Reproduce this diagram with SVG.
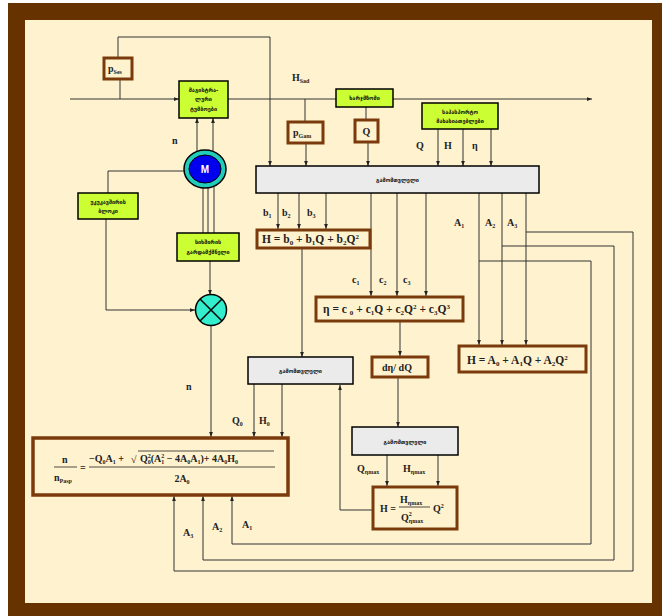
<svg xmlns="http://www.w3.org/2000/svg" width="662" height="616" viewBox="0 0 662 616">
<style>
.ln{fill:none;stroke:#333;stroke-width:1}
.grn{fill:#ccff33;stroke:#000;stroke-width:1.5}
.brn{fill:#fff2cf;stroke:#7b3a0b;stroke-width:3}
.gry{fill:#ebebeb;stroke:#000;stroke-width:1.5}
.t{font-family:"Liberation Serif",serif;font-weight:bold;font-size:10px;fill:#222}
.f{font-size:11.5px}
.s{font-size:6px}
.s7{font-size:7px}
.ka{font-family:"DejaVu Sans","Noto Sans",sans-serif;font-weight:bold;font-size:5.5px;fill:#111;text-anchor:middle}
</style>
<defs>
<marker id="ar" viewBox="0 0 8 8" refX="8" refY="4" markerWidth="5" markerHeight="5" orient="auto" markerUnits="userSpaceOnUse">
<path d="M0,1 L8,4 L0,7 Z" fill="#222"/>
</marker>
</defs>
<rect x="8" y="3" width="654" height="613" fill="#663300"/>
<rect x="25" y="20" width="627" height="583" fill="#fff2cf"/>

<g id="connectors" class="ln">
<path d="M70,99 H179" marker-end="url(#ar)"/>
<path d="M228,99 H592" marker-end="url(#ar)"/>
<path d="M120,79 V99"/>
<path d="M118,58 V37 H270 V166" marker-end="url(#ar)"/>
<path d="M305,99 V121"/>
<path d="M306,143 V166" marker-end="url(#ar)"/>
<path d="M366,107 V119"/>
<path d="M368,142 V166" marker-end="url(#ar)"/>
<path d="M438,129 V166" marker-end="url(#ar)"/>
<path d="M463,129 V166" marker-end="url(#ar)"/>
<path d="M491,129 V166" marker-end="url(#ar)"/>
<path d="M197,153 V118" marker-end="url(#ar)"/>
<path d="M213,153 V118" marker-end="url(#ar)"/>
<path d="M203,187 V233"/>
<path d="M208,188 V233"/>
<path d="M214,187 V233"/>
<path d="M185,171 H108 V193"/>
<path d="M106,219 V310 H195" marker-end="url(#ar)"/>
<path d="M210,261 V295" marker-end="url(#ar)"/>
<path d="M211,326 V437" marker-end="url(#ar)"/>
<path d="M278,193 V229" marker-end="url(#ar)"/>
<path d="M299,193 V229" marker-end="url(#ar)"/>
<path d="M326,193 V229" marker-end="url(#ar)"/>
<path d="M302,248 V357" marker-end="url(#ar)"/>
<path d="M371,193 V296" marker-end="url(#ar)"/>
<path d="M397,193 V296" marker-end="url(#ar)"/>
<path d="M426,193 V296" marker-end="url(#ar)"/>
<path d="M400,321 V356" marker-end="url(#ar)"/>
<path d="M479,193 V345" marker-end="url(#ar)"/>
<path d="M502,193 V345" marker-end="url(#ar)"/>
<path d="M526,193 V345" marker-end="url(#ar)"/>
<path d="M526,232 H633 V571 H174 V496" marker-end="url(#ar)"/>
<path d="M502,246 H614 V560 H203 V496" marker-end="url(#ar)"/>
<path d="M479,261 H591 V544 H232 V496" marker-end="url(#ar)"/>
<path d="M254,384 V437" marker-end="url(#ar)"/>
<path d="M282,384 V437" marker-end="url(#ar)"/>
<path d="M398,377 V427" marker-end="url(#ar)"/>
<path d="M387,455 V486" marker-end="url(#ar)"/>
<path d="M438,455 V486" marker-end="url(#ar)"/>
<path d="M372,510 H340 V385" marker-end="url(#ar)"/>
</g>

<g id="labels" class="t">
<text x="172" y="144">n</text>
<text x="186" y="390">n</text>
<text x="292" y="81">H<tspan class="s" dy="2">Sad</tspan></text>
<text x="416" y="149">Q</text>
<text x="444" y="149">H</text>
<text x="472" y="149">η</text>
<text x="263" y="216">b<tspan class="s" dy="2">1</tspan></text>
<text x="282" y="216">b<tspan class="s" dy="2">2</tspan></text>
<text x="307" y="216">b<tspan class="s" dy="2">3</tspan></text>
<text x="352" y="283">c<tspan class="s" dy="2">1</tspan></text>
<text x="379" y="283">c<tspan class="s" dy="2">2</tspan></text>
<text x="403" y="283">c<tspan class="s" dy="2">3</tspan></text>
<text x="454" y="226">A<tspan class="s" dy="2">1</tspan></text>
<text x="485" y="226">A<tspan class="s" dy="2">2</tspan></text>
<text x="507" y="226">A<tspan class="s" dy="2">3</tspan></text>
<text x="232" y="424">Q<tspan class="s" dy="2">0</tspan></text>
<text x="259" y="424">H<tspan class="s" dy="2">0</tspan></text>
<text x="357" y="472">Q<tspan class="s" dy="2">ηmax</tspan></text>
<text x="403" y="472">H<tspan class="s" dy="2">ηmax</tspan></text>
<text x="183" y="536">A<tspan class="s" dy="2">3</tspan></text>
<text x="212" y="530">A<tspan class="s" dy="2">2</tspan></text>
<text x="242" y="528">A<tspan class="s" dy="2">1</tspan></text>
</g>

<g id="p_ses">
<rect class="brn" x="104" y="58" width="28" height="21"/>
<text class="t" x="108" y="72">p<tspan class="s" dy="2">Ses</tspan></text>
</g>
<g id="pump">
<rect class="grn" x="179" y="81" width="49" height="37"/>
<text class="ka" x="203.5" y="92">მაგისტრა-</text>
<text class="ka" x="203.5" y="101">ლური</text>
<text class="ka" x="203.5" y="111">ტუმბოები</text>
</g>
<g id="p_gam">
<rect class="brn" x="288" y="122" width="35" height="21"/>
<text class="t" x="293" y="136">p<tspan class="s" dy="2">Gam</tspan></text>
</g>
<g id="flowmeter">
<rect class="grn" x="336" y="89" width="57" height="18"/>
<text class="ka" x="364.5" y="100">ხარჯმზომი</text>
</g>
<g id="q_box">
<rect class="brn" x="355" y="120" width="23" height="22"/>
<text class="t" x="366.5" y="135" text-anchor="middle">Q</text>
</g>
<g id="passport">
<rect class="grn" x="422" y="103" width="76" height="26"/>
<text class="ka" x="460" y="114">საპასპორტო</text>
<text class="ka" x="460" y="123">მახასიათებლები</text>
</g>
<g id="computer1">
<rect class="gry" x="256" y="166" width="283" height="27"/>
<text class="ka" x="397.5" y="182" font-size="6">გამომთვლელი</text>
</g>
<g id="motor">
<ellipse cx="205" cy="169" rx="21" ry="19" fill="#22ccbb" stroke="#000" stroke-width="1.5"/>
<ellipse cx="205" cy="169" rx="16" ry="14" fill="#0000ee" stroke="#000" stroke-width="1"/>
<text x="205" y="173" text-anchor="middle" font-family="Liberation Sans,sans-serif" font-weight="bold" font-size="10" fill="#fff">M</text>
</g>
<g id="feedback">
<rect class="grn" x="78" y="193" width="60" height="26"/>
<text class="ka" x="108" y="204">უკუკავშირის</text>
<text class="ka" x="108" y="213">ბლოკი</text>
</g>
<g id="converter">
<rect class="grn" x="177" y="233" width="62" height="28"/>
<text class="ka" x="208" y="244">სიხშირის</text>
<text class="ka" x="208" y="254">გარდამქმნელი</text>
</g>
<g id="multiplier">
<circle cx="211" cy="310" r="15.5" fill="#33eecc" stroke="#000" stroke-width="1.5"/>
<path d="M200,299 L222,321 M222,299 L200,321" stroke="#000" stroke-width="1.5"/>
</g>
<g id="h_b">
<rect class="brn" x="257" y="230" width="113" height="18"/>
<text class="t f" x="262" y="243">H = b<tspan class="s7" dy="2">0</tspan><tspan dy="-2"> + b</tspan><tspan class="s7" dy="2">1</tspan><tspan dy="-2">Q + b</tspan><tspan class="s7" dy="2">2</tspan><tspan dy="-2">Q</tspan><tspan class="s7" dy="-4">2</tspan></text>
</g>
<g id="eta_c">
<rect class="brn" x="316" y="297" width="147" height="24"/>
<text class="t f" x="323" y="313">η = c <tspan class="s7" dy="2">  0</tspan><tspan dy="-2"> + c</tspan><tspan class="s7" dy="2">1</tspan><tspan dy="-2">Q + c</tspan><tspan class="s7" dy="2">2</tspan><tspan dy="-2">Q</tspan><tspan class="s7" dy="-4">2</tspan><tspan dy="4"> + c</tspan><tspan class="s7" dy="2">3</tspan><tspan dy="-2">Q</tspan><tspan class="s7" dy="-4">3</tspan></text>
</g>
<g id="h_a">
<rect class="brn" x="459" y="346" width="127" height="26"/>
<text class="t f" x="467" y="364">H = A<tspan class="s7" dy="2">0</tspan><tspan dy="-2"> + A</tspan><tspan class="s7" dy="2">1</tspan><tspan dy="-2">Q + A</tspan><tspan class="s7" dy="2">2</tspan><tspan dy="-2">Q</tspan><tspan class="s7" dy="-4">2</tspan></text>
</g>
<g id="computer2">
<rect class="gry" x="248" y="357" width="105" height="27"/>
<text class="ka" x="300.5" y="373" font-size="6">გამომთვლელი</text>
</g>
<g id="deta">
<rect class="brn" x="372" y="357" width="56" height="20"/>
<text class="t" x="397" y="371" text-anchor="middle" font-size="11">dη/ dQ</text>
</g>
<g id="computer3">
<rect class="gry" x="352" y="427" width="106" height="28"/>
<text class="ka" x="405" y="444" font-size="6">გამომთვლელი</text>
</g>
<g id="h_max">
<rect class="brn" x="373" y="487" width="84" height="42"/>
<text class="t" x="380" y="512">H =</text>
<text class="t" x="400" y="503">H<tspan class="s" dy="2">ηmax</tspan></text>
<line x1="399" y1="507" x2="430" y2="507" stroke="#222" stroke-width="0.8"/>
<text class="t" x="401" y="521">Q<tspan class="s" dy="-5">2</tspan><tspan class="s" dx="-3" dy="7">ηmax</tspan></text>
<text class="t" x="433" y="512">Q<tspan class="s" dy="-4">2</tspan></text>
</g>
<g id="result">
<rect x="33" y="438" width="255" height="57" fill="#fff2cf" stroke="#7b3a0b" stroke-width="3.5"/>
<text class="t" x="62" y="463">n</text>
<line x1="54" y1="467" x2="77" y2="467" stroke="#222" stroke-width="0.8"/>
<text class="t" x="54" y="481">n<tspan class="s" dy="2">Pasp</tspan></text>
<text class="t" x="80" y="471">=</text>
<text class="t" x="89" y="462" font-size="11">−Q<tspan class="s" dy="2">0</tspan><tspan dy="-2">A</tspan><tspan class="s" dy="2">1</tspan><tspan dy="-2"> + </tspan></text>
<text class="t" x="131" y="463" font-size="12">√</text>
<line x1="138" y1="451" x2="274" y2="451" stroke="#222" stroke-width="0.8"/>
<text class="t" x="140" y="462" font-size="11">Q<tspan class="s" dy="-4">2</tspan><tspan class="s" dx="-3" dy="6">0</tspan><tspan dy="-2">(A</tspan><tspan class="s" dy="-4">2</tspan><tspan class="s" dx="-3" dy="6">1</tspan><tspan dy="-2"> − 4A</tspan><tspan class="s" dy="2">0</tspan><tspan dy="-2">A</tspan><tspan class="s" dy="2">1</tspan><tspan dy="-2">)+ 4A</tspan><tspan class="s" dy="2">0</tspan><tspan dy="-2">H</tspan><tspan class="s" dy="2">0</tspan></text>
<line x1="89" y1="467" x2="275" y2="467" stroke="#222" stroke-width="0.8"/>
<text class="t" x="182" y="482" text-anchor="middle" font-size="11">2A<tspan class="s" dy="2">0</tspan></text>
</g>
</svg>
